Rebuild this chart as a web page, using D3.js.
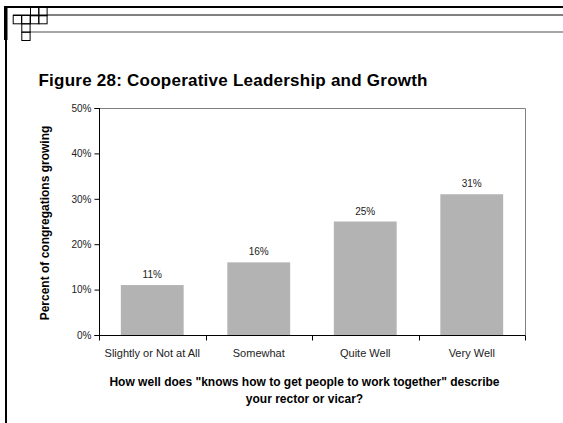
<!DOCTYPE html>
<html>
<head>
<meta charset="utf-8">
<script src="https://cdn.jsdelivr.net/npm/d3@7"></script>
<style>
  html, body { margin: 0; padding: 0; background: #fff; }
  svg { display: block; font-family: "Liberation Sans", Arial, sans-serif; }
</style>
</head>
<body>
<svg id="chart" width="563" height="423"></svg>
<script>
const categories = ["Slightly or Not at All", "Somewhat", "Quite Well", "Very Well"];
const values = [0.11, 0.16, 0.25, 0.31];
const yTicks = [0, 0.1, 0.2, 0.3, 0.4, 0.5];
const title = "Figure 28: Cooperative Leadership and Growth";
const yTitle = "Percent of congregations growing";
const xTitleLines = ["How well does \"knows how to get people to work together\" describe", "your rector or vicar?"];

(function () {
const svg = d3.select("#chart");
const W = 563, H = 423;
svg.append("rect").attr("width", W).attr("height", H).attr("fill", "#fff");

// ---- page frame decoration ----
const frame = svg.append("g");
frame.append("rect").attr("x", 4).attr("y", 6).attr("width", W - 4).attr("height", 2).attr("fill", "#000");
frame.append("rect").attr("x", 4).attr("y", 6).attr("width", 3.5).attr("height", 34).attr("fill", "#000");
frame.append("rect").attr("x", 5).attr("y", 6).attr("width", 2).attr("height", H - 6).attr("fill", "#000");
frame.append("rect").attr("x", 13).attr("y", 14).attr("width", W - 13).attr("height", 2).attr("fill", "#808080");
frame.append("rect").attr("x", 30).attr("y", 31.3).attr("width", W - 30).attr("height", 1.4).attr("fill", "#808080");
const cells = [[30, 7], [38.3, 7], [12.7, 15], [21.3, 15], [30, 15], [38.3, 15], [21.3, 23.3], [21.3, 31.7]];
frame.selectAll("rect.cell").data(cells).join("rect")
  .attr("class", "cell")
  .attr("x", d => d[0] + 0.5).attr("y", d => d[1] + 0.5)
  .attr("width", 8.3).attr("height", 8.3)
  .attr("fill", "none").attr("stroke", "#000").attr("stroke-width", 1);

// ---- title ----
svg.append("text").attr("x", 38.5).attr("y", 86)
  .attr("font-size", 17).attr("font-weight", "bold").attr("fill", "#000")
  .attr("textLength", 389).attr("lengthAdjust", "spacing")
  .text(title);

// ---- scales ----
const pL = 99, pR = 525, pT = 108, pB = 335;
const x = d3.scaleBand().domain(categories).range([pL, pR]).paddingInner(0.41).paddingOuter(0.205);
const y = d3.scaleLinear().domain([0, 0.5]).range([pB, pT]);

// plot border (top & right, gray)
svg.append("path")
  .attr("d", `M${pL},${pT + 0.5}H${pR + 0.5}V${pB}`)
  .attr("fill", "none").attr("stroke", "#808080").attr("stroke-width", 1);

// bars
svg.append("g").selectAll("rect").data(values).join("rect")
  .attr("x", (d, i) => x(categories[i]))
  .attr("y", d => y(d))
  .attr("width", x.bandwidth())
  .attr("height", d => y(0) - y(d))
  .attr("fill", "#b3b3b3");

// bar labels
svg.append("g").selectAll("text").data(values).join("text")
  .attr("x", (d, i) => x(categories[i]) + x.bandwidth() / 2)
  .attr("y", d => y(d) - 7)
  .attr("text-anchor", "middle")
  .attr("font-size", 10).attr("fill", "#222")
  .text(d => d3.format(".0%")(d));

// y axis
const yAxis = svg.append("g").attr("transform", `translate(${pL + 0.5},0)`)
  .call(d3.axisLeft(y).tickValues(yTicks).tickFormat(d3.format(".0%")).tickSize(5).tickPadding(3));
yAxis.select(".domain").attr("stroke", "#000").attr("d", `M-5,${pT + 0.5}H0V${pB + 0.5}H-5`);
yAxis.selectAll(".tick line").attr("stroke", "#000");
yAxis.selectAll(".tick text").attr("font-size", 10).attr("fill", "#222").attr("font-family", "Liberation Sans, Arial, sans-serif");

// x axis
const xAxis = svg.append("g").attr("transform", `translate(0,${pB + 0.5})`)
  .call(d3.axisBottom(x).tickSize(0).tickPadding(14));
xAxis.select(".domain").attr("stroke", "#000").attr("d", `M${pL},0H${pR + 0.5}`);
xAxis.selectAll(".tick text").attr("font-size", 11).attr("fill", "#222").attr("font-family", "Liberation Sans, Arial, sans-serif");
const boundaries = d3.range(categories.length + 1).map(i => pL + i * x.step());
xAxis.append("g").selectAll("line").data(boundaries).join("line")
  .attr("x1", d => Math.round(d) + 0.5).attr("x2", d => Math.round(d) + 0.5)
  .attr("y1", 0).attr("y2", 5).attr("stroke", "#000");

// y title
svg.append("text")
  .attr("transform", `translate(49,223) rotate(-90)`)
  .attr("text-anchor", "middle")
  .attr("font-size", 12).attr("font-weight", "bold").attr("fill", "#000")
  .text(yTitle);

// x title
svg.append("g").selectAll("text").data(xTitleLines).join("text")
  .attr("x", 304.5).attr("y", (d, i) => 386 + i * 17)
  .attr("text-anchor", "middle")
  .attr("font-size", 12).attr("font-weight", "bold").attr("fill", "#000")
  .text(d => d);
})();
</script>
</body>
</html>
